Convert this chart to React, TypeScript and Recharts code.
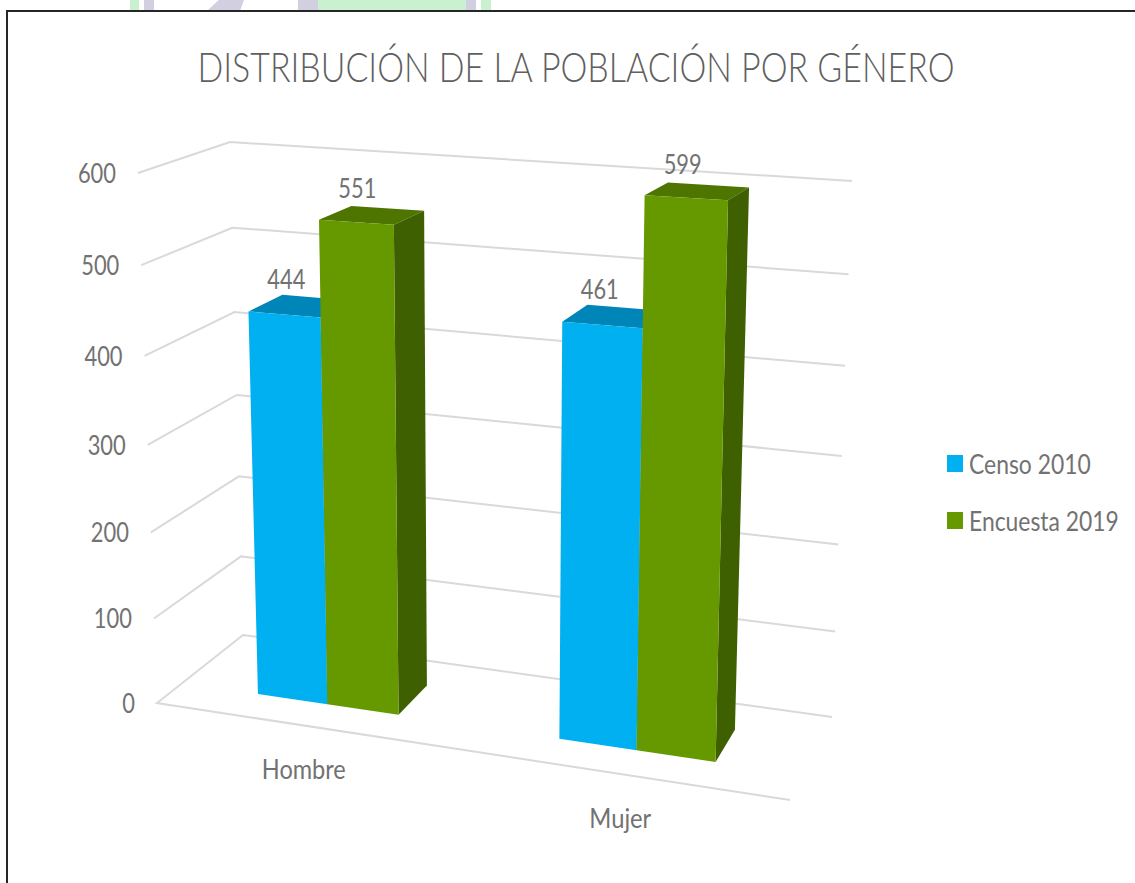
import { Bar, BarChart, CartesianGrid, LabelList, Legend, XAxis, YAxis } from "recharts"

const categories = ["Hombre", "Mujer"]
const censo2010 = [444, 461]
const encuesta2019 = [551, 599]
const yTicks = [0, 100, 200, 300, 400, 500, 600]

const chartData = categories.map((name, i) => ({
  name,
  "Censo 2010": censo2010[i],
  "Encuesta 2019": encuesta2019[i],
}))

const FONT = "Lato, sans-serif"
const TEXT = "#727272"

// flat plot rectangle recharts works in, before it gets projected
const PLOT = { x: 100, y: 100, w: 800, h: 600 }

// corners of the fake 3d box on screen: Front/Back, Bottom/Top, Left/Right
const FBL = [157, 703]
const FBR = [790, 800]
const BBL = [243, 635]
const BBR = [832, 717]
const FTL = [138, 173]
const FTR = [806, 213]
const BTL = [230, 142]
const BTR = [852, 181]

const mix = (a: number[], b: number[], t: number) => [a[0] + (b[0] - a[0]) * t, a[1] + (b[1] - a[1]) * t]

// u, v: 0..1 on the recharts rect, d: 0 front wall, 1 back wall
function project(u: number, v: number, d: number) {
  const uu = u - 0.105 * u * (1 - u)
  const vv = v - 0.052 * v * (1 - v)
  const bottom = mix(mix(FBL, FBR, uu), mix(BBL, BBR, uu), d)
  const top = mix(mix(FTL, FTR, uu), mix(BTL, BTR, uu), d)
  return mix(bottom, top, vv)
}

const toU = (x: number) => (x - PLOT.x) / PLOT.w
const toV = (y: number) => (PLOT.y + PLOT.h - y) / PLOT.h
const pts = (list: number[][]) => list.map((p) => p.join(",")).join(" ")

const D_FRONT = 0.33
const D_BACK = 0.73

function Bar3D({ x, y, width, height, fill, topFill, sideFill }: any) {
  const u0 = toU(x)
  const u1 = toU(x + width)
  const v1 = toV(y)
  const v0 = toV(y + height)
  // bars sit a touch lower than the grid in the original
  const p = (u: number, v: number, d: number) => {
    const [px, py] = project(u, v, d)
    return [px - 0.5, py + 2.5]
  }
  return (
    <g>
      <polygon fill={topFill} points={pts([p(u0, v1, D_FRONT), p(u1, v1, D_FRONT), p(u1, v1, D_BACK), p(u0, v1, D_BACK)])} />
      <polygon fill={sideFill} points={pts([p(u1, v0, D_FRONT), p(u1, v0, D_BACK), p(u1, v1, D_BACK), p(u1, v1, D_FRONT)])} />
      <polygon fill={fill} points={pts([p(u0, v0, D_FRONT), p(u1, v0, D_FRONT), p(u1, v1, D_FRONT), p(u0, v1, D_FRONT)])} />
    </g>
  )
}

function BarValue({ x, y, width, value }: any) {
  const [px, py] = project(toU(x + width / 2), toV(y), (D_FRONT + D_BACK) / 2)
  return (
    <text x={px - 15} y={py - 25} textAnchor="middle" dominantBaseline="central" fontFamily={FONT} fontSize={26} textLength={38} lengthAdjust="spacingAndGlyphs" fill={TEXT}>
      {value}
    </text>
  )
}

function GridLine({ y1, y, index }: any) {
  const v = toV(y1 ?? y)
  const line = [project(0, v, 0), project(0, v, 1), project(1, v, 1)]
  const floor = v < 0.001
  return (
    <g key={index}>
      <polyline points={pts(floor ? [project(1, 0, 0), ...line] : line)} fill="none" stroke="#d9d9d9" strokeWidth={2} />
    </g>
  )
}

function YTick({ y, payload }: any) {
  const [px, py] = project(0, toV(y), 0)
  const digits = String(payload.value).length
  return (
    <text x={px - 22} y={py} textAnchor="end" dominantBaseline="central" fontFamily={FONT} fontSize={26} textLength={digits * 12.7} lengthAdjust="spacingAndGlyphs" fill={TEXT}>
      {payload.value}
    </text>
  )
}

function XTick({ x, payload }: any) {
  const [px, py] = project(toU(x), 0, 0)
  return (
    <text x={px + 1} y={py + 44} textAnchor="middle" dominantBaseline="central" fontFamily={FONT} fontSize={26} textLength={payload.value === "Hombre" ? 84 : 62} lengthAdjust="spacingAndGlyphs" fill={TEXT}>
      {payload.value}
    </text>
  )
}

function LegendBox({ payload }: any) {
  return (
    <div>
      {(payload ?? []).map((item: any) => (
        <div key={item.value} style={{ display: "flex", alignItems: "center", height: 57 }}>
          <span style={{ flexShrink: 0, width: 16, height: 17, background: item.color, marginRight: 6 }} />
          <span style={{ flexShrink: 0, fontFamily: FONT, fontSize: 26, color: TEXT, transform: "scaleX(0.88)", transformOrigin: "left", whiteSpace: "nowrap" }}>{item.value}</span>
        </div>
      ))}
    </div>
  )
}

// bits of the page watermark that stick out above the frame
const watermark: [number, number, string][] = [
  [130, 9, "#c9f0cf"],
  [144, 10, "#d2cfe0"],
  [318, 148, "#c9f0cf"],
  [466, 10, "#d2cfe0"],
  [481, 10, "#c9f0cf"],
]

export default function App() {
  return (
    <div style={{ position: "fixed", left: 0, top: 0, width: 1135, height: 883, background: "#fff", overflow: "hidden" }}>
      {watermark.map(([left, width, color]) => (
        <div key={left} style={{ position: "absolute", left, top: 0, width, height: 10, background: color }} />
      ))}
      <div style={{ position: "absolute", left: 208, top: 0, width: 36, height: 10, background: "#d2cfe0", clipPath: "polygon(30% 0, 100% 0, 90% 100%, 0 100%)" }} />
      <div style={{ position: "absolute", left: 298, top: 0, width: 20, height: 10, background: "#d2cfe0" }} />
      <div style={{ position: "absolute", left: 6, top: 10, width: 1135, height: 880, borderLeft: "2px solid #262626", borderTop: "2px solid #262626", boxSizing: "border-box", background: "#fff" }} />
      <svg width={1135} height={120} style={{ position: "absolute", left: 0, top: 0 }}>
        <text x={576} y={66} textAnchor="middle" dominantBaseline="central" fontFamily={FONT} fontWeight={300} fontSize={42} textLength={757} lengthAdjust="spacingAndGlyphs" fill="#5f5f5f">
          DISTRIBUCIÓN DE LA POBLACIÓN POR GÉNERO
        </text>
      </svg>
      <div style={{ position: "absolute", left: 0, top: 0 }}>
        <BarChart
          width={1135}
          height={883}
          data={chartData}
          margin={{ top: PLOT.y, left: PLOT.x - 1, right: 1135 - PLOT.x - PLOT.w, bottom: 883 - PLOT.y - PLOT.h - 1 }}
          barCategoryGap="26%"
          barGap={0}
        >
          <CartesianGrid vertical={false} horizontal={GridLine as any} />
          <XAxis dataKey="name" height={1} axisLine={false} tickLine={false} interval={0} tick={XTick as any} />
          <YAxis domain={[0, 600]} ticks={yTicks} width={1} axisLine={false} tickLine={false} interval={0} tick={YTick as any} />
          <Legend
            layout="vertical"
            align="center"
            verticalAlign="middle"
            wrapperStyle={{ left: 947, top: 435, width: 188 }}
            content={LegendBox as any}
          />
          <Bar dataKey="Censo 2010" fill="#00b0f0" isAnimationActive={false} shape={(props: any) => <Bar3D {...props} topFill="#0085b8" sideFill="#0079a8" />}>
            <LabelList dataKey="Censo 2010" content={BarValue as any} />
          </Bar>
          <Bar dataKey="Encuesta 2019" fill="#669900" isAnimationActive={false} shape={(props: any) => <Bar3D {...props} topFill="#4e7500" sideFill="#3f6000" />}>
            <LabelList dataKey="Encuesta 2019" content={BarValue as any} />
          </Bar>
        </BarChart>
      </div>
    </div>
  )
}
